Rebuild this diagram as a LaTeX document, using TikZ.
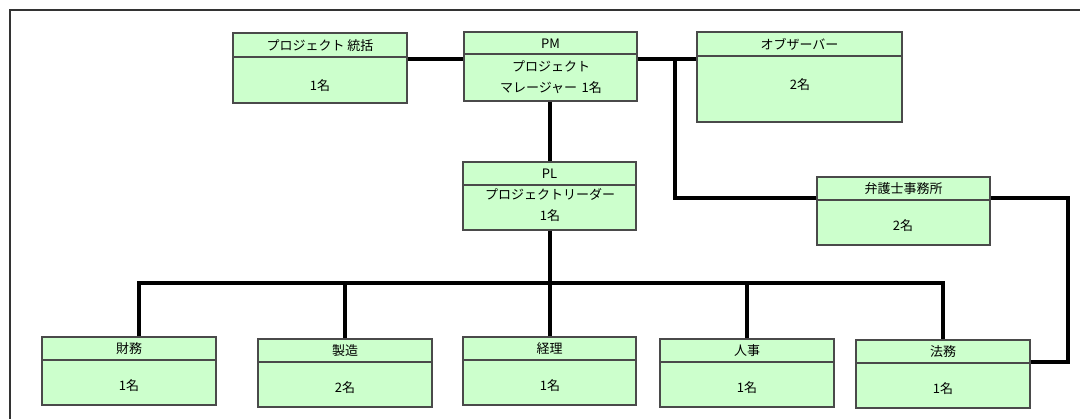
\documentclass[tikz,border=0pt]{standalone}
\usepackage{fontspec}
\setmainfont{Noto Sans CJK JP}
\definecolor{boxfill}{HTML}{CCFFCC}
\definecolor{boxline}{HTML}{4A4A4A}
\definecolor{framec}{HTML}{333333}
\tikzset{
  boxst/.style={draw=boxline, fill=boxfill, line width=1.2pt, rectangle, inner sep=0pt},
  divst/.style={draw=boxline, line width=1.2pt},
  txt/.style={inner sep=0pt, align=center, text=black, font=\fontsize{13}{20.5}\selectfont},
  conn/.style={draw=black, line width=4pt, line join=miter},
  framest/.style={draw=framec, line width=2pt}
}
% name, x1, x2, y1, ydiv, y2, header
\newcommand\orgbox[7]{%
  \node[boxst, minimum width={#3-#2}, minimum height={#6-#4}] (#1) at ({(#2+#3)/2},{(#4+#6)/2}) {};
  \draw[divst] (#2,#5) -- (#3,#5);
  \node[txt] (#1h) at ({(#2+#3)/2},{(#4+#5)/2+0.5}) {#7};
}
\begin{document}
\begin{tikzpicture}[x=1pt,y=-1pt]
\useasboundingbox[fill=white] (0,0) rectangle (1080,419);
\draw[framest] (10,420) -- (10,10) -- (1081,10);

% top row
\orgbox{tg}{233}{407}{33}{57}{103}{プロジェクト 統括}
\node[txt] (tgb) at (320,86) {1名};
\orgbox{pm}{464}{637}{32}{54}{101}{PM}
\node[txt] (pmb) at (551,77) {プロジェクト\\マレージャー\hspace{0.35em}1名};
\orgbox{ob}{697}{902}{32}{56}{122}{オブザーバー}
\node[txt] (obb) at (800,85) {2名};

% middle
\orgbox{pl}{463}{636}{162}{185}{230}{PL}
\node[txt] (plb) at (550,205) {プロジェクトリーダー\\1名};
\orgbox{lw}{817}{990}{177}{200}{245}{弁護士事務所}
\node[txt] (lwb) at (903,226) {2名};

% bottom row
\orgbox{zm}{42}{216}{337}{360}{405}{財務}
\node[txt] (zmb) at (129,386) {1名};
\orgbox{sz}{258}{432}{339}{362}{407}{製造}
\node[txt] (szb) at (345,388) {2名};
\orgbox{kr}{463}{636}{337}{360}{405}{経理}
\node[txt] (krb) at (550,386) {1名};
\orgbox{jj}{660}{834}{339}{362}{407}{人事}
\node[txt] (jjb) at (747,388) {1名};
\orgbox{hm}{856}{1030}{340}{363}{408}{法務}
\node[txt] (hmb) at (943,389) {1名};

% helper coordinates
\coordinate (ytop) at (0,59);
\coordinate (jn) at (675,59);
\coordinate (ylaw) at (0,198);
\coordinate (rx) at (1068,198);
\coordinate (rb) at (1068,362);
\coordinate (bus) at (0,283);
\coordinate (busl) at (139,283);
\coordinate (busr) at (943,283);
\coordinate (vx) at (550,0);

% connectors
\draw[conn] (tg.east |- ytop) -- (pm.west |- ytop);
\draw[conn] (pm.east |- ytop) -- (ob.west |- ytop);
\draw[conn] (jn) -- (jn |- ylaw) -- (lw.west |- ylaw);
\draw[conn] (lw.east |- ylaw) -- (rx) -- (rb) -- (hm.east |- rb);
\draw[conn] (vx |- pm.south) -- (vx |- pl.north);
\draw[conn] (vx |- pl.south) -- (vx |- bus);
\draw[conn] (zm.north -| busl) -- (busl) -- (busr) -- (hm.north -| busr);
\draw[conn] (sz.north) -- (sz.north |- bus);
\draw[conn] (kr.north -| vx) -- (vx |- bus);
\draw[conn] (jj.north) -- (jj.north |- bus);
\end{tikzpicture}
\end{document}
